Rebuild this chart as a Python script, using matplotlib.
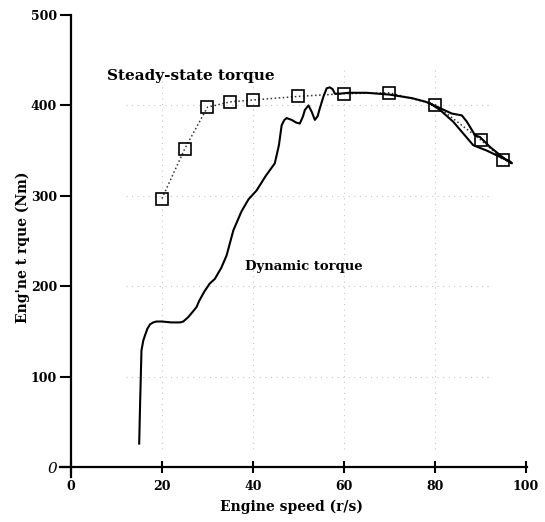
import matplotlib.pyplot as plt


# steady-state torque test points
steady_speed = [20, 25, 30, 35, 40, 50, 60, 70, 80, 90, 95]
steady_torque = [297, 352, 398, 404, 406, 410, 413, 414, 401, 362, 340]

# dynamic torque trace (out along the upper path, back along the lower one)
dyn_speed = [15.0, 15.2, 15.5, 15.9, 16.3, 16.8, 17.4, 18.1, 18.8, 20.0, 22.0, 24.0,
             24.7, 25.8, 26.8, 27.6, 28.2, 29.3, 30.5, 31.6, 33.0, 34.2, 35.7,
             37.5, 39.0, 40.8, 42.8, 44.8, 45.7, 46.3, 46.9, 47.4, 48.5, 49.5,
             50.3, 51.0, 51.4, 52.2, 52.9, 53.6, 54.2, 54.7, 55.5, 56.2, 56.9,
             57.5, 58.0, 59.0, 61.0, 65.0, 70.0, 75.0, 78.0, 81.1, 83.7, 85.9,
             87.0, 88.8, 89.9, 92.1, 95.8, 96.9,
             96.5, 94.3, 91.4, 88.4, 86.2, 84.0, 81.1, 79.0]
dyn_torque = [26, 70, 129, 140, 146, 153, 158, 160, 161, 161, 160, 160,
              161, 166, 172, 177, 184, 194, 203, 208, 220, 234, 262,
              283, 296, 306, 322, 336, 356, 378, 384, 386, 384, 381,
              380, 388, 395, 400, 393, 384, 388, 397, 410, 419, 420,
              418, 413, 413, 414, 414, 412, 408, 404, 397, 391, 389,
              382, 367, 365, 354, 339, 336,
              338, 343, 350, 356, 369, 382, 395, 402]

x_ticks = [0, 20, 40, 60, 80, 100]
y_ticks = [0, 100, 200, 300, 400, 500]


fig = plt.figure(figsize=(5.45, 5.22), dpi=100)
ax = fig.add_axes([0.1101, 0.0862, 0.8576, 0.885])

# faint dotted grid, like the scan
for gx in [20, 40, 60, 80]:
    ax.plot([gx, gx], [20, 440], linestyle=(0, (1, 4)), color='#c8c8c8', linewidth=0.8, zorder=0)
for gy in [100, 200, 300, 400]:
    ax.plot([12, 92], [gy, gy], linestyle=(0, (1, 4)), color='#c8c8c8', linewidth=0.8, zorder=0)

ax.plot(
    steady_speed,
    steady_torque,
    linestyle=':',
    color='#333333',
    linewidth=1.1,
    marker='s',
    markersize=9,
    markerfacecolor='none',
    markeredgecolor='black',
    markeredgewidth=1.2
)

ax.plot(
    dyn_speed,
    dyn_torque,
    color='black',
    linewidth=1.5
)

ax.text(26.4, 433, "Steady-state torque", fontfamily='DejaVu Serif',
        fontweight='bold', fontsize=11, ha='center', va='center')
ax.text(51.2, 222, "Dynamic torque", fontfamily='DejaVu Serif',
        fontweight='bold', fontsize=9.5, ha='center', va='center')

ax.set_xlim(-2.4, 100.3)
ax.set_ylim(-11, 500)

ax.spines['top'].set_visible(False)
ax.spines['right'].set_visible(False)
ax.spines['left'].set_position(('data', 0))
ax.spines['bottom'].set_position(('data', 0))
ax.spines['left'].set_linewidth(1.6)
ax.spines['bottom'].set_linewidth(1.6)

ax.set_xticks(x_ticks)
ax.set_yticks(y_ticks)
ax.set_xticklabels([str(v) for v in x_ticks], fontfamily='DejaVu Serif',
                   fontweight='bold', fontsize=9)
ylabels = ax.set_yticklabels([str(v) for v in y_ticks], fontfamily='DejaVu Serif',
                             fontweight='bold', fontsize=9)
ylabels[0].set_fontstyle('italic')
ylabels[0].set_fontweight('normal')
ylabels[0].set_fontsize(11)

ax.tick_params(axis='x', direction='inout', length=9, width=1.5, pad=5)
ax.tick_params(axis='y', direction='out', length=8, width=1.5, pad=2)

fig.text(0.535, 0.029, "Engine speed (r/s)", fontfamily='DejaVu Serif',
         fontweight='bold', fontsize=10, ha='center', va='center')
fig.text(0.042, 0.527, "Eng'ne t rque (Nm)", fontfamily='DejaVu Serif',
         fontweight='bold', fontsize=10, rotation=90, ha='center', va='center')

plt.savefig("out.png", dpi=100)
